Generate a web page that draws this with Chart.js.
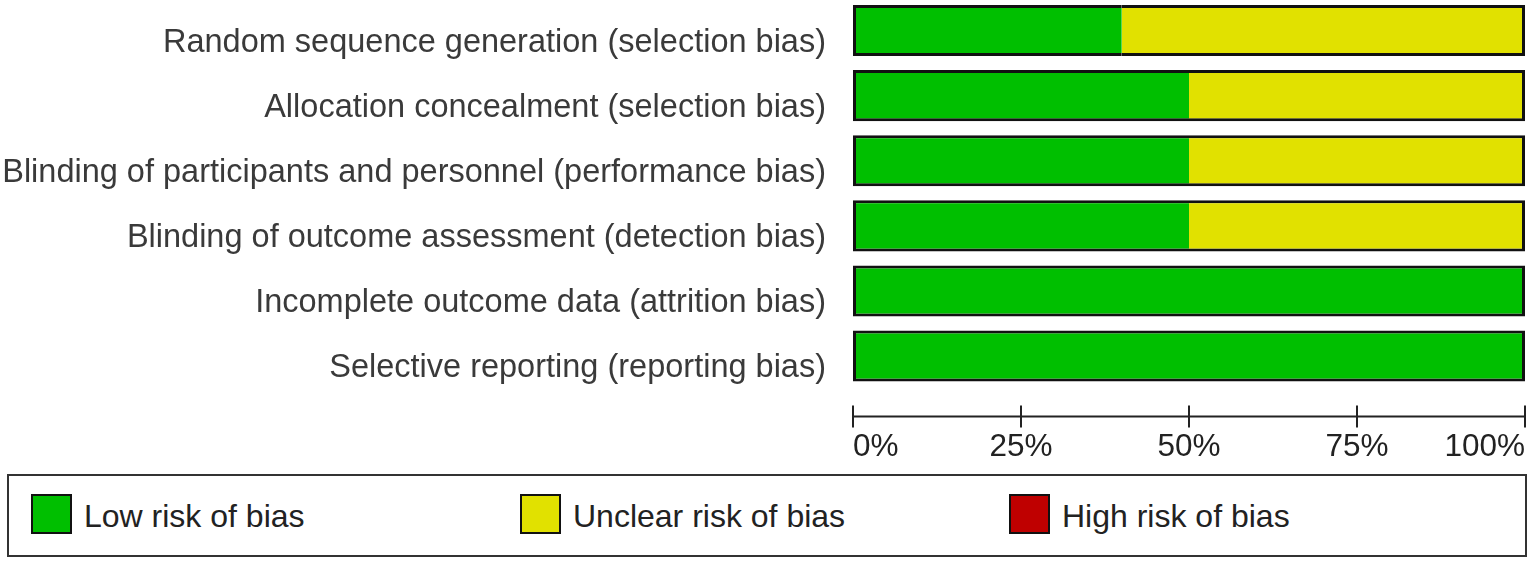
<!DOCTYPE html>
<html>
<head>
<meta charset="utf-8">
<script src="https://cdn.jsdelivr.net/npm/chart.js@4.4.1/dist/chart.umd.min.js"></script>
<style>
  body { margin: 0; background: #fff; width: 1535px; height: 561px; overflow: hidden; position: relative; font-family: "Liberation Sans", Arial, sans-serif; }
  #chart { position: absolute; left: 0; top: -2px; }
  #legend { position: absolute; left: 7px; top: 474px; width: 1516px; height: 79px; border: 2px solid #333; }
  .item { position: absolute; top: 18px; height: 40px; }
  .swatch { position: absolute; left: 0; top: 0; width: 37px; height: 36px; border: 2px solid #111; }
  .label { position: absolute; left: 53px; top: 4px; font-size: 32px; color: #222; white-space: nowrap; }
</style>
</head>
<body>
<canvas id="chart" width="1535" height="472"></canvas>
<div id="legend"></div>
<script>
// data
const categories = [
    'Random sequence generation (selection bias)',
    'Allocation concealment (selection bias)',
    'Blinding of participants and personnel (performance bias)',
    'Blinding of outcome assessment (detection bias)',
    'Incomplete outcome data (attrition bias)',
    'Selective reporting (reporting bias)'
];
const lowRisk     = [40, 50, 50, 50, 100, 100];
const unclearRisk = [60, 50, 50, 50, 0, 0];
const highRisk    = [0, 0, 0, 0, 0, 0];
const xTicks = [0, 25, 50, 75, 100];
const seriesNames  = ['Low risk of bias', 'Unclear risk of bias', 'High risk of bias'];
const seriesColors = ['#00bf00', '#e1e100', '#bf0000'];

// only the outer edges of each stacked bar get a black border
function segmentBorder(ctx) {
    if (ctx.type !== 'data') return 0;
    const j = ctx.dataIndex, i = ctx.datasetIndex;
    const vals = ctx.chart.data.datasets.map(d => d.data[j]);
    if (!vals[i]) return 0;
    let first = vals.findIndex(v => v > 0);
    let last = -1;
    vals.forEach((v, k) => { if (v > 0) last = k; });
    return { top: 3, bottom: 3, left: i === first ? 3 : 0, right: i === last ? 3 : 0 };
}

function noPadding(s) {
    s.paddingLeft = 0; s.paddingRight = 0;
    s.paddingTop = 0; s.paddingBottom = 0;
}

// axis line with ticks crossing it, a bit below the bars
const axisLine = {
    id: 'axisLine',
    afterDraw(chart) {
        const c = chart.ctx, xs = chart.scales.x;
        const y = chart.chartArea.bottom + 28;
        c.save();
        c.strokeStyle = '#222';
        c.lineWidth = 2;
        c.beginPath();
        c.moveTo(xs.getPixelForValue(xTicks[0]), y);
        c.lineTo(xs.getPixelForValue(xTicks[xTicks.length - 1]), y);
        xTicks.forEach(v => {
            const px = xs.getPixelForValue(v);
            c.moveTo(px, y - 11);
            c.lineTo(px, y + 11);
        });
        c.stroke();
        c.restore();
    }
};

const datasets = [lowRisk, unclearRisk, highRisk].map((d, i) => ({
    label: seriesNames[i],
    data: d,
    backgroundColor: seriesColors[i],
    borderColor: '#111',
    borderWidth: segmentBorder,
    borderSkipped: false,
    barPercentage: 0.785,
    categoryPercentage: 1
}));

const chart = new Chart(document.getElementById('chart'), {
    type: 'bar',
    data: { labels: categories, datasets: datasets },
    options: {
        indexAxis: 'y',
        responsive: false,
        animation: false,
        devicePixelRatio: 1,
        layout: { padding: { left: 0, right: 10, top: 0, bottom: 0 } },
        plugins: { legend: { display: false }, tooltip: { enabled: false } },
        scales: {
            y: {
                stacked: true,
                grid: { display: false, drawTicks: false },
                border: { display: false },
                ticks: {
                    color: '#3a3a3a',
                    font: { family: 'Liberation Sans', size: 32.5 },
                    padding: 27,
                    labelOffset: 12
                },
                afterFit: s => { s.width = 853; noPadding(s); }
            },
            x: {
                stacked: true,
                min: 0, max: 100,
                grid: { display: false, drawTicks: false },
                border: { display: false },
                afterBuildTicks: s => { s.ticks = xTicks.map(v => ({ value: v })); },
                ticks: {
                    color: '#222',
                    font: { family: 'Liberation Sans', size: 31.5 },
                    align: 'inner',
                    padding: 40,
                    maxRotation: 0,
                    callback: v => v + '%'
                },
                afterFit: s => { s.height = 81.4; noPadding(s); }
            }
        }
    },
    plugins: [axisLine]
});

// html legend built from the chart's datasets
const legend = document.getElementById('legend');
chart.data.datasets.forEach((ds, i) => {
    const item = document.createElement('div');
    item.className = 'item';
    item.style.left = (22 + i * 489) + 'px';
    item.innerHTML = '<div class="swatch" style="background:' + ds.backgroundColor + '"></div>' +
        '<div class="label">' + ds.label + '</div>';
    legend.appendChild(item);
});
</script>
</body>
</html>
